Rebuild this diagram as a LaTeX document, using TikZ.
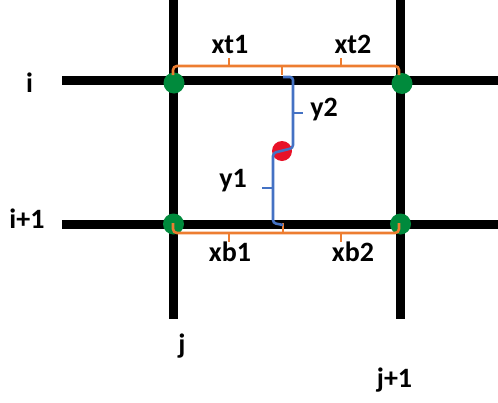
\documentclass[tikz,border=0pt]{standalone}
\usepackage{fontspec}
\setmainfont{Carlito}
\definecolor{brOrange}{RGB}{237,125,49}
\definecolor{brBlue}{RGB}{68,114,196}
\definecolor{dotGreen}{RGB}{0,138,60}
\definecolor{dotRed}{RGB}{232,18,40}
\begin{document}
\begin{tikzpicture}[x=1pt,y=-1pt,
  gridline/.style={line width=9.5pt,black},
  gdot/.style={circle,fill=dotGreen,minimum size=21pt,inner sep=0pt},
  rdot/.style={circle,fill=dotRed,minimum size=20pt,inner sep=0pt},
  obrace/.style={draw=brOrange,line width=2.6pt,rounded corners=4pt},
  bbrace/.style={draw=brBlue,line width=2.6pt,rounded corners=3pt},
  lbl/.style={font=\bfseries\fontsize{28}{32}\selectfont,inner sep=0pt,anchor=base}]
\useasboundingbox (0,0) rectangle (498,402);
% grid lines
\draw[gridline] (62,80.5) -- (498,80.5);
\draw[gridline] (62,224.5) -- (498,224.5);
\draw[gridline] (173.5,0) -- (173.5,319);
\draw[gridline] (400.5,0) -- (400.5,319);
% dots
\node[gdot] (g11) at (174,83) {};
\node[gdot] (g12) at (402,83.5) {};
\node[gdot] (g21) at (173.5,224) {};
\node[gdot] (g22) at (400.5,224) {};
\node[rdot] (p) at (282,151) {};
% top orange brace
\draw[obrace] (173,75) -- (173,66) -- (399,66) -- (399,75);
\draw[obrace] (229,66) -- (229,58);
\draw[obrace] (341,66) -- (341,58);
\draw[obrace] (282,66) -- (282,75);
% bottom orange brace
\draw[obrace] (173,223) -- (173,233) -- (399,233) -- (399,223);
\draw[obrace] (229,233) -- (229,242);
\draw[obrace] (341,233) -- (341,242);
\draw[obrace] (283,233) -- (283,223);
% blue braces
\draw[bbrace] (283,77) -- (293,77) -- (293,148) -- (273,153) -- (273,223) -- (283,225);
\draw[bbrace] (293,113) -- (303,113);
\draw[bbrace] (273,188) -- (262,188);
% labels
\node[lbl] (xt1) at (230,53) {xt1};
\node[lbl] (xt2) at (353,53) {xt2};
\node[lbl] (xb1) at (230,261) {xb1};
\node[lbl] (xb2) at (353,261) {xb2};
\node[lbl] (y2) at (324,116) {y2};
\node[lbl] (y1) at (233,187) {y1};
\node[lbl] (ri) at (29.5,92) {i};
\node[lbl] (ri1) at (27,228) {i+1};
\node[lbl] (cj) at (182,353) {j};
\node[lbl] (cj1) at (394.5,387) {j+1};
\end{tikzpicture}
\end{document}
